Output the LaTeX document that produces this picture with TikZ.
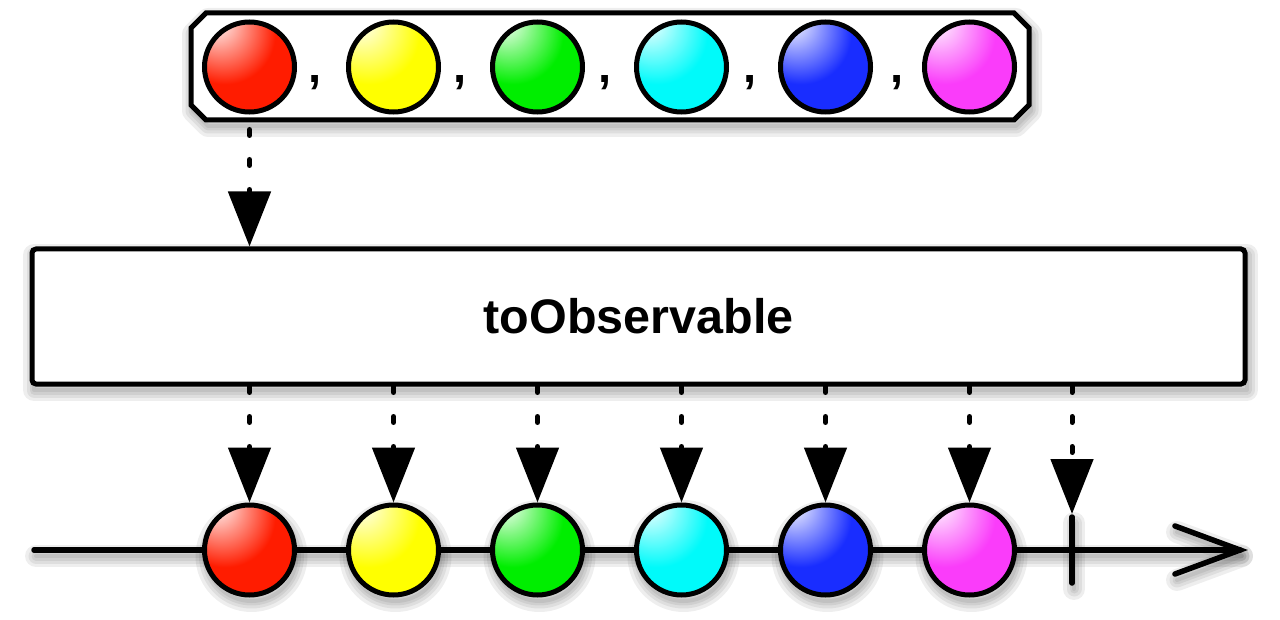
\documentclass[tikz,border=0pt]{standalone}
\usepackage{fontspec}
\setmainfont{Liberation Sans}
\usetikzlibrary{arrows.meta}
\definecolor{bred}{RGB}{255,28,0}
\definecolor{byellow}{RGB}{255,255,0}
\definecolor{bgreen}{RGB}{0,238,0}
\definecolor{bcyan}{RGB}{0,250,250}
\definecolor{bblue}{RGB}{25,45,255}
\definecolor{bmagenta}{RGB}{250,60,250}
\colorlet{ballc}{red}
\pgfdeclareradialshading[ballc]{glossy}{\pgfpoint{-20bp}{27bp}}{%
  color(0bp)=(white); color(4bp)=(white!88!ballc); color(14bp)=(white!50!ballc);
  color(28bp)=(ballc); color(52bp)=(ballc); color(88bp)=(ballc!66!black)}
\newcommand{\mysoftshadow}[1]{%
  \foreach \w in {22,15,9,4}{%
    \draw[shift={(2,6)}, black, opacity=0.065, line width=\w pt, line cap=round, line join=round] #1;}}
\begin{document}
\begin{tikzpicture}[x=1pt,y=-1pt,
  ball/.style={circle, draw=black, line width=5pt, minimum size=90pt, inner sep=0pt,
    /utils/exec={\colorlet{ballc}{#1}}, shade, shading=glossy},
  heavy/.style={line width=5.5pt, line cap=round},
  darrow/.style={line width=5pt, line cap=round, dash pattern=on 6pt off 24pt,
    -{Triangle[width=42pt,length=55pt]}},
  comma/.style={font=\bfseries\fontsize{47}{56}\selectfont, anchor=base, inner sep=0pt},
  opbox/.style={draw=black, line width=5pt, rounded corners=4pt, fill=white,
    minimum width=1213pt, minimum height=135pt,
    font=\bfseries\fontsize{48.5}{58}\selectfont}]
\useasboundingbox (0,0) rectangle (1280,620);

% soft shadows
\mysoftshadow{(191,28) -- (206,13) -- (1014,13) -- (1029,28) -- (1029,105) -- (1014,120) -- (206,120) -- (191,105) -- cycle}
\mysoftshadow{(32,249) rectangle (1245,384)}
\mysoftshadow{(34,550) -- (1240,550)}
\mysoftshadow{(1175,526) -- (1240,550) -- (1175,574)}
\mysoftshadow{(1072,517) -- (1072,583)}
\foreach \x in {249.5,393.5,537.5,681.5,825.5,969.5}{\mysoftshadow{(\x,550) circle (45)}}

% source box
\draw[line width=5pt, line join=miter, fill=white]
  (191,28) -- (206,13) -- (1014,13) -- (1029,28) -- (1029,105) -- (1014,120) -- (206,120) -- (191,105) -- cycle;
\node[ball=bred]     (t1) at (249.5,67) {};
\node[ball=byellow]  (t2) at (393.5,67) {};
\node[ball=bgreen]   (t3) at (537.5,67) {};
\node[ball=bcyan]    (t4) at (681.5,67) {};
\node[ball=bblue]    (t5) at (825.5,67) {};
\node[ball=bmagenta] (t6) at (969.5,67) {};
\node[comma] (c1) at (315,83) {,};
\node[comma] (c2) at (460,83) {,};
\node[comma] (c3) at (605,83) {,};
\node[comma] (c4) at (750,83) {,};
\node[comma] (c5) at (897,83) {,};
\coordinate (src) at (249.5,122.5);

% operator
\node[opbox] (op) at (638.5,316.5) {toObservable};
\draw[darrow, dash phase=23pt] (src) -- (op.north -| src);

% timeline
\coordinate (tl0) at (34,550);
\coordinate (tl1) at (1240,550);
\coordinate (ah1) at (1175,526);
\coordinate (ah2) at (1175,574);
\draw[heavy] (tl0) -- (tl1);
\draw[heavy, line join=miter] (ah1) -- (tl1) -- (ah2);
\coordinate (tktop) at (1072,517);
\coordinate (tkbot) at (1072,583);
\draw[heavy] (tktop) -- (tkbot);

\node[ball=bred]     (b1) at (249.5,550) {};
\node[ball=byellow]  (b2) at (393.5,550) {};
\node[ball=bgreen]   (b3) at (537.5,550) {};
\node[ball=bcyan]    (b4) at (681.5,550) {};
\node[ball=bblue]    (b5) at (825.5,550) {};
\node[ball=bmagenta] (b6) at (969.5,550) {};

\foreach \b in {b1,b2,b3,b4,b5,b6}{\draw[darrow] (op.south -| \b) -- (\b.north);}
\coordinate (tkend) at (1072,514);
\draw[darrow] (op.south -| tkend) -- (tkend);
\end{tikzpicture}
\end{document}
